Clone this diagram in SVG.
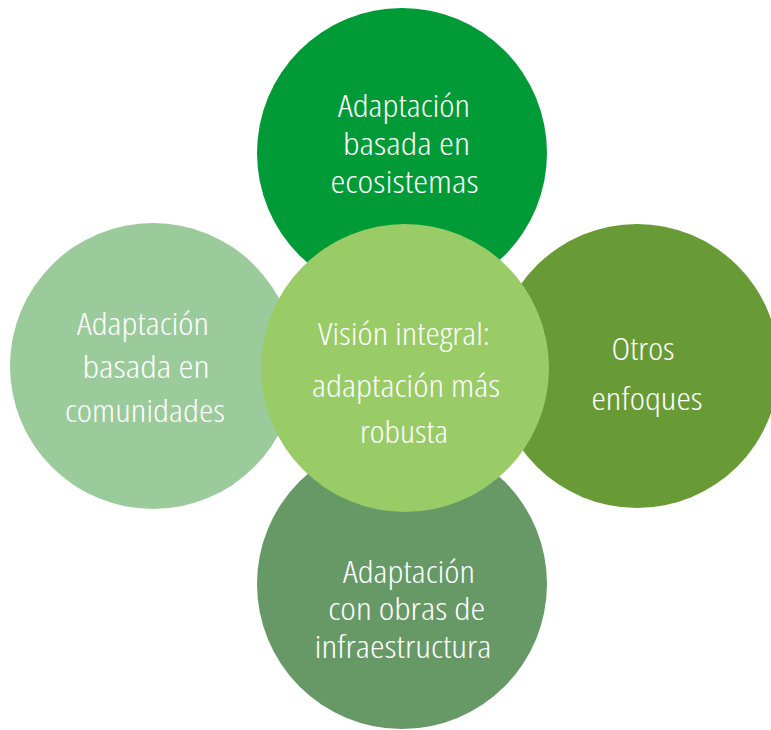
<svg xmlns="http://www.w3.org/2000/svg" width="771" height="730" viewBox="0 0 771 730">
<style>
text{font-family:"Open Sans","Roboto","Liberation Sans",sans-serif;font-weight:300;font-stretch:condensed;font-size:31px;fill:#ffffff;text-anchor:middle}
</style>
<rect width="771" height="730" fill="#ffffff"/>
<g id="connectors"></g>
<g id="node-ecosistemas">
<circle cx="402" cy="153" r="145" fill="#009A36"/>
<text x="404" y="117" textLength="132" lengthAdjust="spacingAndGlyphs">Adaptación</text>
<text x="406.5" y="155" textLength="127" lengthAdjust="spacingAndGlyphs">basada en</text>
<text x="404.5" y="193" textLength="148" lengthAdjust="spacingAndGlyphs">ecosistemas</text>
</g>
<g id="node-comunidades">
<circle cx="153" cy="366" r="143" fill="#9BCB9A"/>
<text x="143" y="335" textLength="132" lengthAdjust="spacingAndGlyphs">Adaptación</text>
<text x="146" y="378" textLength="127" lengthAdjust="spacingAndGlyphs">basada en</text>
<text x="145" y="421.5" textLength="160" lengthAdjust="spacingAndGlyphs">comunidades</text>
</g>
<g id="node-otros">
<circle cx="637" cy="366" r="142" fill="#689B35"/>
<text x="643" y="360" textLength="63" lengthAdjust="spacingAndGlyphs">Otros</text>
<text x="647" y="410" textLength="111" lengthAdjust="spacingAndGlyphs">enfoques</text>
</g>
<g id="node-infraestructura">
<circle cx="402" cy="584" r="145" fill="#669966"/>
<text x="409" y="583" textLength="132" lengthAdjust="spacingAndGlyphs">Adaptación</text>
<text x="406.7" y="620" textLength="157" lengthAdjust="spacingAndGlyphs">con obras de</text>
<text x="403" y="658" textLength="177" lengthAdjust="spacingAndGlyphs">infraestructura</text>
</g>
<g id="node-vision">
<circle cx="405" cy="368" r="144" fill="#99CC66"/>
<text x="404" y="345" textLength="172" lengthAdjust="spacingAndGlyphs">Visión integral:</text>
<text x="406" y="396.5" textLength="188" lengthAdjust="spacingAndGlyphs">adaptación más</text>
<text x="404" y="443" textLength="88" lengthAdjust="spacingAndGlyphs">robusta</text>
</g>
</svg>
